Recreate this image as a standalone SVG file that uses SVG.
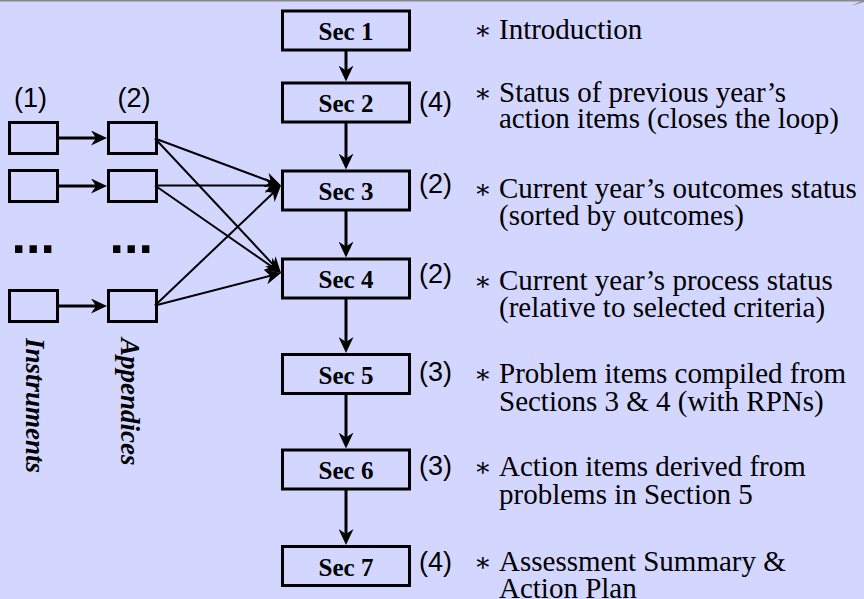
<svg xmlns="http://www.w3.org/2000/svg" width="864" height="599" viewBox="0 0 864 599">
<style>
.box{fill:none;stroke:#000;stroke-width:3}
.sec{font-family:"Liberation Serif","Times New Roman",serif;font-weight:bold;font-size:25px;text-anchor:middle;fill:#000}
.num{font-family:"Liberation Sans",Arial,sans-serif;font-size:27px;fill:#000}
.dtx{font-family:"Liberation Serif","Times New Roman",serif;font-size:29px;fill:#000}
.ast{font-family:"DejaVu Serif","Liberation Serif",serif;font-size:26px;fill:#000}
.side{font-family:"Liberation Serif","Times New Roman",serif;font-weight:bold;font-style:italic;font-size:27px;fill:#000}
.dots{font-family:"Liberation Sans",Arial,sans-serif;font-weight:bold;font-size:52px;fill:#000}
.thick{stroke:#000;stroke-width:3;fill:none;marker-end:url(#ah)}
.thin{stroke:#000;stroke-width:2;fill:none;marker-end:url(#ah)}
</style>
<defs>
<marker id="ah" markerUnits="userSpaceOnUse" markerWidth="16" markerHeight="15" refX="12" refY="7.5" orient="auto">
<path d="M0,0 L16,7.5 L0,15 L5,7.5 z" fill="#000"/>
</marker>
</defs>
<rect x="0" y="0" width="864" height="599" fill="#d3d6ff"/>
<rect x="0" y="0" width="864" height="1.5" fill="#8a8a8a"/>
<polygon points="851,6 864,0 864,2" fill="#8a8a8a"/>

<g id="connectors">
<line class="thick" x1="346" y1="50" x2="346" y2="77.5"/>
<line class="thick" x1="346" y1="122" x2="346" y2="165.5"/>
<line class="thick" x1="346" y1="210" x2="346" y2="253.5"/>
<line class="thick" x1="346" y1="298" x2="346" y2="349"/>
<line class="thick" x1="346" y1="393.5" x2="346" y2="444.5"/>
<line class="thick" x1="346" y1="489" x2="346" y2="541"/>
<line class="thick" x1="58" y1="138" x2="103" y2="138"/>
<line class="thick" x1="58" y1="186" x2="103" y2="186"/>
<line class="thick" x1="58" y1="306" x2="103" y2="306"/>
<line class="thin" x1="155" y1="138.5" x2="277.25" y2="184.1"/>
<line class="thin" x1="155" y1="138.5" x2="278.27" y2="270.08"/>
<line class="thin" x1="155" y1="185.5" x2="277" y2="185.5"/>
<line class="thin" x1="155" y1="185.5" x2="277.71" y2="270.72"/>
<line class="thin" x1="155" y1="305.5" x2="278.1" y2="188.26"/>
<line class="thin" x1="155" y1="305.5" x2="277.13" y2="274"/>
</g>

<g id="instruments">
<text class="num" x="30.5" y="107" text-anchor="middle">(1)</text>
<rect class="box" x="9.5" y="122.5" width="48" height="31"/>
<rect class="box" x="9.5" y="170.5" width="48" height="31"/>
<text class="dots" x="11.5" y="253">...</text>
<rect class="box" x="9.5" y="290.5" width="48" height="31"/>
<text class="side" transform="translate(26,338) rotate(90)">Instruments</text>
</g>
<g id="appendices">
<text class="num" x="134" y="107" text-anchor="middle">(2)</text>
<rect class="box" x="108.5" y="122.5" width="48" height="31"/>
<rect class="box" x="108.5" y="170.5" width="48" height="31"/>
<text class="dots" x="109.5" y="253">...</text>
<rect class="box" x="108.5" y="290.5" width="48" height="31"/>
<text class="side" transform="translate(121,338) rotate(90)">Appendices</text>
</g>

<g id="sec1">
<rect class="box" x="282.5" y="11" width="127" height="39"/>
<text class="sec" x="346" y="40">Sec 1</text>
<text class="ast" x="474" y="38.5">∗</text>
<text class="dtx" font-family="Liberation Serif, serif" x="499" y="38.5">Introduction</text>
</g>
<g id="sec2">
<rect class="box" x="282.5" y="83" width="127" height="39"/>
<text class="sec" x="346" y="112">Sec 2</text>
<text class="num" x="419" y="111">(4)</text>
<text class="ast" x="474" y="101.5">∗</text>
<text class="dtx" font-family="Liberation Serif, serif" x="499" y="101.5">Status of previous year’s</text>
<text class="dtx" font-family="Liberation Serif, serif" x="499" y="128">action items (closes the loop)</text>
</g>
<g id="sec3">
<rect class="box" x="282.5" y="171" width="127" height="39"/>
<text class="sec" x="346" y="200">Sec 3</text>
<text class="num" x="419" y="193">(2)</text>
<text class="ast" x="474" y="198">∗</text>
<text class="dtx" font-family="Liberation Serif, serif" x="499" y="198">Current year’s outcomes status</text>
<text class="dtx" font-family="Liberation Serif, serif" x="499" y="225">(sorted by outcomes)</text>
</g>
<g id="sec4">
<rect class="box" x="282.5" y="259" width="127" height="39"/>
<text class="sec" x="346" y="288">Sec 4</text>
<text class="num" x="419" y="282.5">(2)</text>
<text class="ast" x="474" y="290">∗</text>
<text class="dtx" font-family="Liberation Serif, serif" x="499" y="290">Current year’s process status</text>
<text class="dtx" font-family="Liberation Serif, serif" x="499" y="317">(relative to selected criteria)</text>
</g>
<g id="sec5">
<rect class="box" x="282.5" y="354.5" width="127" height="39"/>
<text class="sec" x="346" y="383.5">Sec 5</text>
<text class="num" x="419" y="381">(3)</text>
<text class="ast" x="474" y="382.7">∗</text>
<text class="dtx" font-family="Liberation Serif, serif" x="499" y="382.7">Problem items compiled from</text>
<text class="dtx" font-family="Liberation Serif, serif" x="499" y="410.7">Sections 3 &amp; 4 (with RPNs)</text>
</g>
<g id="sec6">
<rect class="box" x="282.5" y="450" width="127" height="39"/>
<text class="sec" x="346" y="479">Sec 6</text>
<text class="num" x="419" y="474.5">(3)</text>
<text class="ast" x="474" y="475.7">∗</text>
<text class="dtx" font-family="Liberation Serif, serif" x="499" y="475.7">Action items derived from</text>
<text class="dtx" font-family="Liberation Serif, serif" x="499" y="504">problems in Section 5</text>
</g>
<g id="sec7">
<rect class="box" x="282.5" y="546.5" width="127" height="39"/>
<text class="sec" x="346" y="575.5">Sec 7</text>
<text class="num" x="419" y="571">(4)</text>
<text class="ast" x="474" y="570.7">∗</text>
<text class="dtx" font-family="Liberation Serif, serif" x="499" y="570.7">Assessment Summary &amp;</text>
<text class="dtx" font-family="Liberation Serif, serif" x="499" y="598">Action Plan</text>
</g>
</svg>
